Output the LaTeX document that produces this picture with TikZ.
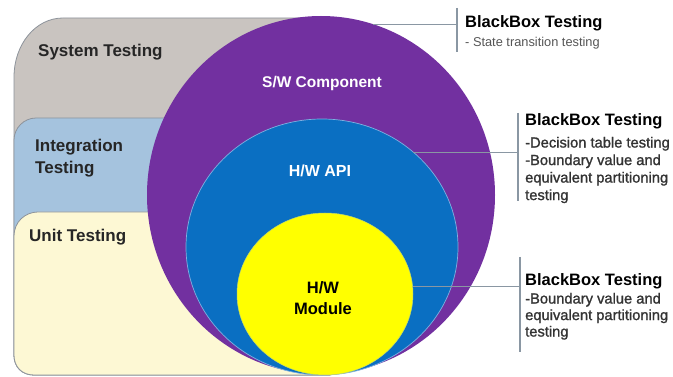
\documentclass[tikz,border=0pt]{standalone}
\usepackage{fontspec}
\setmainfont{Liberation Sans}
\newfontfamily\bodyfont[RawFeature={embolden=1.2}]{Liberation Sans}
\usetikzlibrary{shapes.geometric}
\definecolor{bandgray}{HTML}{C9C4C0}
\definecolor{bandblue}{HTML}{A5C3DE}
\definecolor{bandcream}{HTML}{FDF8D4}
\definecolor{bandline}{HTML}{8D939B}
\definecolor{swpurple}{HTML}{7230A0}
\definecolor{hwblue}{HTML}{0A6FC2}
\definecolor{hwedge}{HTML}{7FB0E0}
\definecolor{hwyellow}{HTML}{FFFF00}
\definecolor{leadgray}{HTML}{8A97A3}
\definecolor{textdark}{HTML}{262626}
\definecolor{bodygray}{HTML}{333333}
\definecolor{subgray}{HTML}{555555}
\tikzset{
  band/.style={fill=#1, draw=bandline, line width=0.8pt},
  disc/.style={ellipse, inner sep=0pt, outer sep=0pt},
  tabtext/.style={font=\bfseries\fontsize{17}{22}\selectfont, text=textdark, align=left, inner sep=0pt},
  circtext/.style={font=\bfseries\fontsize{#1}{21}\selectfont, align=center, inner sep=0pt},
  headtext/.style={font=\bfseries\fontsize{16.5}{20}\selectfont, text=black, anchor=base west, inner sep=0pt},
  bodytext/.style={font=\bodyfont\fontsize{14.7}{#1}\selectfont, text=bodygray, anchor=north west, align=left, inner sep=0pt},
  leader/.style={draw=leadgray, line width=1pt},
  barline/.style={draw=leadgray, line width=1.3pt}
}
\begin{document}
\begin{tikzpicture}[x=1pt,y=-1pt]
\useasboundingbox (0,0) rectangle (673,377);
\clip (0,0) rectangle (673,377);
\fill[white] (0,0) rectangle (673,377);
% background tabs
\path[band=bandgray] (330,18) -- (63,18) .. controls (35,18) and (14,45) .. (14,77)
  -- (14,355) .. controls (14,367) and (22,375) .. (34,375) -- (330,375) -- cycle;
\path[band=bandblue] (330,118) -- (36,118) .. controls (24,118) and (14,128) .. (14,140)
  -- (14,355) .. controls (14,367) and (22,375) .. (34,375) -- (330,375) -- cycle;
\path[band=bandcream] (330,212) -- (38,212) .. controls (25,212) and (14,222) .. (14,236)
  -- (14,355) .. controls (14,367) and (22,375) .. (34,375) -- (330,375) -- cycle;
% tab labels
\node[tabtext, anchor=base west] (sys) at (38,57) {System Testing};
\node[tabtext, anchor=north west] (integ) at (35,138.8) {Integration\\Testing};
\node[tabtext, anchor=base west] (unit) at (29,242) {Unit Testing};
% nested discs
\node[disc, fill=swpurple, minimum width=348pt, minimum height=358pt] (sw) at (321,195) {};
\node[disc, fill=hwblue, draw=hwedge, line width=0.7pt, minimum width=272pt, minimum height=256pt] (api) at (322,247) {};
\node[disc, fill=hwyellow, draw=hwedge!50!hwyellow, line width=0.5pt, minimum width=176pt, minimum height=162pt] (mod) at (325,294) {};
% disc labels
\node[circtext=15.5, text=white, anchor=base] (swl) at (322,87.5) {S/W Component};
\node[circtext=16, text=white, anchor=base] (apil) at (320,176.7) {H/W API};
\node[circtext=16.5, text=black, anchor=north] (modl) at (323,281) {H/W\\Module};
% bars
\coordinate (b1t) at (457,8);   \coordinate (b1b) at (457,52);
\coordinate (b2t) at (518,113); \coordinate (b2b) at (518,201);
\coordinate (b3t) at (520,257); \coordinate (b3b) at (520,352);
\draw[barline] (b1t) -- (b1b);
\draw[barline] (b2t) -- (b2b);
\draw[barline] (b3t) -- (b3b);
% leaders
\draw[leader] (sw.73.4) -- (sw.73.4 -| b1t);
\draw[leader] (api.46.3) -- (api.46.3 -| b2t);
\draw[leader] (mod.5.0) -- (mod.5.0 -| b3t);
% right labels
\node[headtext] (h1) at (465,28) {BlackBox Testing};
\node[font=\fontsize{12.8}{15}\selectfont, text=subgray, anchor=base west, inner sep=0pt] (s1) at (465,46.7) {- State transition testing};
\node[headtext] (h2) at (525,126) {BlackBox Testing};
\node[bodytext=17.5] (s2) at (525,136.7) {-Decision table testing\\-Boundary value and\\equivalent partitioning\\testing};
\node[headtext] (h3) at (525,286) {BlackBox Testing};
\node[bodytext=16.5] (s3) at (525,292.7) {-Boundary value and\\equivalent partitioning\\testing};
\end{tikzpicture}
\end{document}
